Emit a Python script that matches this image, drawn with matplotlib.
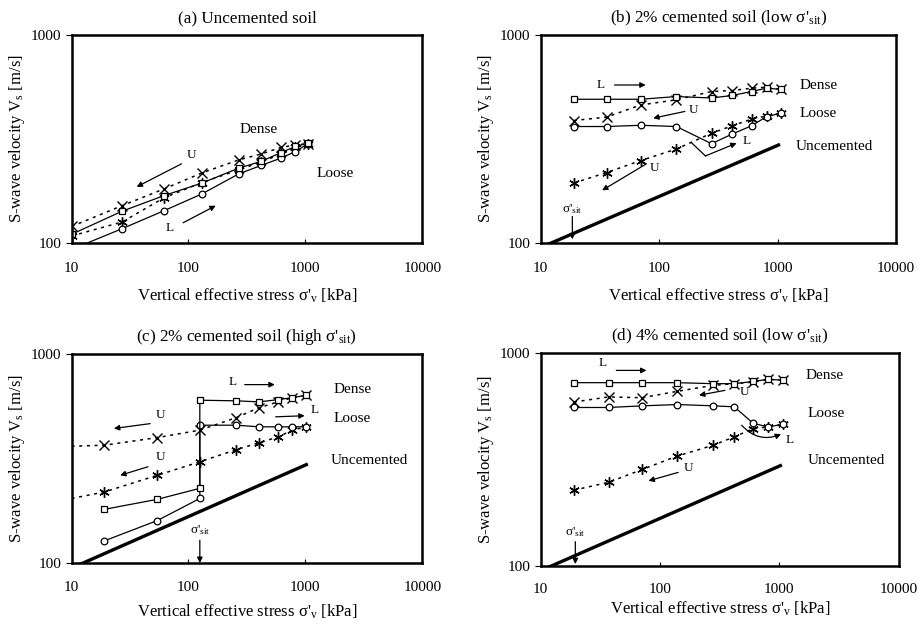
import numpy as np
import matplotlib
matplotlib.use("Agg")
import matplotlib.pyplot as plt

plt.rcParams["font.family"] = ["Liberation Serif", "DejaVu Serif"]
plt.rcParams["mathtext.fontset"] = "custom"
plt.rcParams["mathtext.rm"] = "Liberation Serif"
plt.rcParams["mathtext.it"] = "Liberation Serif:italic"

SIT = "σ'$_{\\rm sit}$"

# uncemented reference line (same in b, c, d)
unc_x = [10, 1050]
unc_y = [95, 298]

# (a) uncemented soil
a_x = [10, 27, 62, 130, 270, 420, 620, 820, 1050]
a_loose_load = [93, 117, 143, 172, 215, 236, 256, 275, 300]
a_loose_unload = [108, 126, 165, 195, 225, 245, 268, 288, 298]
a_dense_load = [110, 142, 169, 194, 229, 247, 272, 291, 302]
a_dense_unload = [120, 151, 182, 217, 251, 268, 288, 296, 300]

# (b) 2% cemented, low sigma'sit
b_x = [19, 36, 70, 140, 277, 414, 603, 807, 1067]
b_dense_load = [491, 491, 491, 506, 498, 512, 535, 555, 548]
b_dense_unload = [388, 403, 461, 488, 535, 541, 555, 561, 548]
b_loose_load = [363, 363, 368, 363, 300, 334, 366, 405, 421]
b_loose_unload = [194, 218, 249, 283, 337, 366, 394, 408, 421]

# (c) 2% cemented, high sigma'sit (loading jumps at sigma'sit)
c_load_x = [19, 54, 125, 125, 257, 402, 584, 774, 1020]
c_dense_load = [181, 202, 228, 600, 596, 589, 604, 617, 634]
c_loose_load = [128, 160, 204, 456, 456, 448, 448, 448, 448]
c_unload_x = [10, 19, 54, 125, 257, 402, 584, 774, 1020]
c_dense_unload = [362, 366, 398, 432, 496, 553, 589, 617, 634]
c_loose_unload = [204, 219, 263, 305, 349, 376, 401, 432, 448]

# (d) 4% cemented, low sigma'sit
d_x = [19, 37, 71, 139, 279, 419, 605, 809, 1081]
d_dense_load = [726, 726, 726, 726, 718, 718, 736, 753, 745]
d_dense_unload = [589, 622, 617, 661, 705, 718, 731, 753, 745]
d_loose_load = [555, 555, 565, 573, 565, 559, 467, 450, 463]
d_loose_unload = [227, 247, 284, 328, 369, 404, 442, 450, 463]

ASTER = (6, 2, 0)
DOT = (0, (2, 3))


def series(ax, x, y, kind, markevery=None):
    if kind == "dense_load":
        ax.plot(x, y, "-", color="black", lw=0.9, marker="s", ms=4.8,
                mfc="white", mec="black", mew=0.9, markevery=markevery)
    elif kind == "loose_load":
        ax.plot(x, y, "-", color="black", lw=0.9, marker="o", ms=4.8,
                mfc="white", mec="black", mew=0.9, markevery=markevery)
    elif kind == "dense_unload":
        ax.plot(x, y, linestyle=DOT, color="black", lw=1.1, marker="x", ms=6.5,
                mec="black", mew=1.0, markevery=markevery)
    else:
        ax.plot(x, y, linestyle=DOT, color="black", lw=1.1, marker=ASTER, ms=7.5,
                mec="black", mew=1.0, markevery=markevery)


def style(ax, title, tpad=14, lpad=8):
    ax.set_xscale("log")
    ax.set_yscale("log")
    ax.set_xlim(10, 10000)
    ax.set_ylim(100, 1000)
    ax.set_xticks([10, 100, 1000, 10000])
    ax.set_xticklabels(["10", "100", "1000", "10000"])
    ax.set_yticks([100, 1000])
    ax.set_yticklabels(["100", "1000"])
    ax.minorticks_off()
    ax.tick_params(axis="x", direction="in", length=3, labelsize=11, pad=tpad)
    ax.tick_params(axis="y", direction="out", length=4, labelsize=11)
    for s in ax.spines.values():
        s.set_linewidth(1.8)
    ax.set_title(title, fontsize=12.3, pad=9)
    ax.set_xlabel("Vertical effective stress σ'$_{\\rm v}$ [kPa]", fontsize=12, labelpad=lpad)
    ax.set_ylabel("S-wave velocity V$_{\\rm s}$ [m/s]", fontsize=12, labelpad=3)


def arrow(ax, xy_from, xy_to, rad=0.0):
    ax.annotate("", xy=xy_to, xytext=xy_from,
                arrowprops=dict(arrowstyle="-|>", color="black", lw=0.9,
                                mutation_scale=8, shrinkA=0, shrinkB=0,
                                connectionstyle=f"arc3,rad={rad}"))


def txt(ax, x, y, s, size=9.5, ha="center"):
    ax.text(x, y, s, fontsize=size, ha=ha, va="center")


def sit_marker(ax, x, y_text, y0, y1):
    txt(ax, x, y_text, SIT, size=9.5)
    arrow(ax, (x, y0), (x, y1))


fig = plt.figure(figsize=(9.18, 6.26), dpi=100)
ax_a = fig.add_axes([0.078, 0.612, 0.382, 0.332])
ax_b = fig.add_axes([0.589, 0.612, 0.387, 0.332])
ax_c = fig.add_axes([0.078, 0.100, 0.382, 0.335])
ax_d = fig.add_axes([0.589, 0.096, 0.390, 0.340])

# (a)
series(ax_a, a_x, a_loose_unload, "loose_unload")
series(ax_a, a_x, a_dense_unload, "dense_unload")
series(ax_a, a_x, a_loose_load, "loose_load")
series(ax_a, a_x, a_dense_load, "dense_load")
arrow(ax_a, (87, 240), (36, 186))
arrow(ax_a, (90, 125), (171, 151))
txt(ax_a, 106, 265, "U")
txt(ax_a, 69, 118, "L")
txt(ax_a, 394, 352, "Dense", size=11)
txt(ax_a, 1780, 215, "Loose", size=11)
style(ax_a, "(a) Uncemented soil")

# (b)
ax_b.plot(unc_x, unc_y, color="black", lw=2.4, solid_capstyle="butt")
series(ax_b, b_x, b_loose_unload, "loose_unload")
series(ax_b, b_x, b_dense_unload, "dense_unload")
series(ax_b, b_x, b_loose_load, "loose_load")
series(ax_b, b_x, b_dense_load, "dense_load")
arrow(ax_b, (42, 575), (77, 575))
txt(ax_b, 32, 578, "L")
arrow(ax_b, (165, 429), (89, 398))
txt(ax_b, 196, 437, "U")
arrow(ax_b, (78, 240), (33, 179))
txt(ax_b, 92, 229, "U")
ax_b.plot([187, 246], [304, 262], color="black", lw=0.9)
arrow(ax_b, (246, 262), (451, 302))
txt(ax_b, 550, 308, "L")
txt(ax_b, 1545, 575, "Dense", size=11, ha="left")
txt(ax_b, 1545, 421, "Loose", size=11, ha="left")
txt(ax_b, 1420, 291, "Uncemented", size=11, ha="left")
sit_marker(ax_b, 18.5, 146, 134, 104)
style(ax_b, "(b) 2% cemented soil (low " + SIT + ")")

# (c)
ax_c.plot(unc_x, unc_y, color="black", lw=2.4, solid_capstyle="butt")
series(ax_c, c_unload_x, c_loose_unload, "loose_unload", markevery=list(range(1, 9)))
series(ax_c, c_unload_x, c_dense_unload, "dense_unload", markevery=list(range(1, 9)))
series(ax_c, c_load_x, c_loose_load, "loose_load")
series(ax_c, c_load_x, c_dense_load, "dense_load")
arrow(ax_c, (303, 712), (547, 712))
txt(ax_c, 241, 736, "L")
arrow(ax_c, (557, 500), (986, 506))
txt(ax_c, 1202, 541, "L")
arrow(ax_c, (47, 464), (23, 440))
txt(ax_c, 58, 508, "U")
arrow(ax_c, (45, 289), (26, 263))
txt(ax_c, 58, 322, "U")
txt(ax_c, 2550, 676, "Dense", size=11)
txt(ax_c, 2500, 490, "Loose", size=11)
txt(ax_c, 3500, 310, "Uncemented", size=11)
sit_marker(ax_c, 125, 144, 129, 100.5)
style(ax_c, "(c) 2% cemented soil (high " + SIT + ")", tpad=13, lpad=6)

# (d)
ax_d.plot(unc_x, unc_y, color="black", lw=2.4, solid_capstyle="butt")
series(ax_d, d_x, d_loose_unload, "loose_unload")
series(ax_d, d_x, d_dense_unload, "dense_unload")
series(ax_d, d_x, d_loose_load, "loose_load")
series(ax_d, d_x, d_dense_load, "dense_load")
arrow(ax_d, (43, 829), (77, 829))
txt(ax_d, 33, 897, "L")
arrow(ax_d, (350, 668), (212, 634))
txt(ax_d, 508, 656, "U")
arrow(ax_d, (142, 275), (80, 251))
txt(ax_d, 172, 287, "U")
arrow(ax_d, (483, 458), (1032, 416), rad=0.35)
txt(ax_d, 1213, 390, "L")
txt(ax_d, 2415, 785, "Dense", size=11)
txt(ax_d, 2450, 520, "Loose", size=11)
txt(ax_d, 3670, 314, "Uncemented", size=11)
sit_marker(ax_d, 19.5, 144, 130, 102)
style(ax_d, "(d) 4% cemented soil (low " + SIT + ")", tpad=12, lpad=3)

fig.savefig("out.png", dpi=100)
